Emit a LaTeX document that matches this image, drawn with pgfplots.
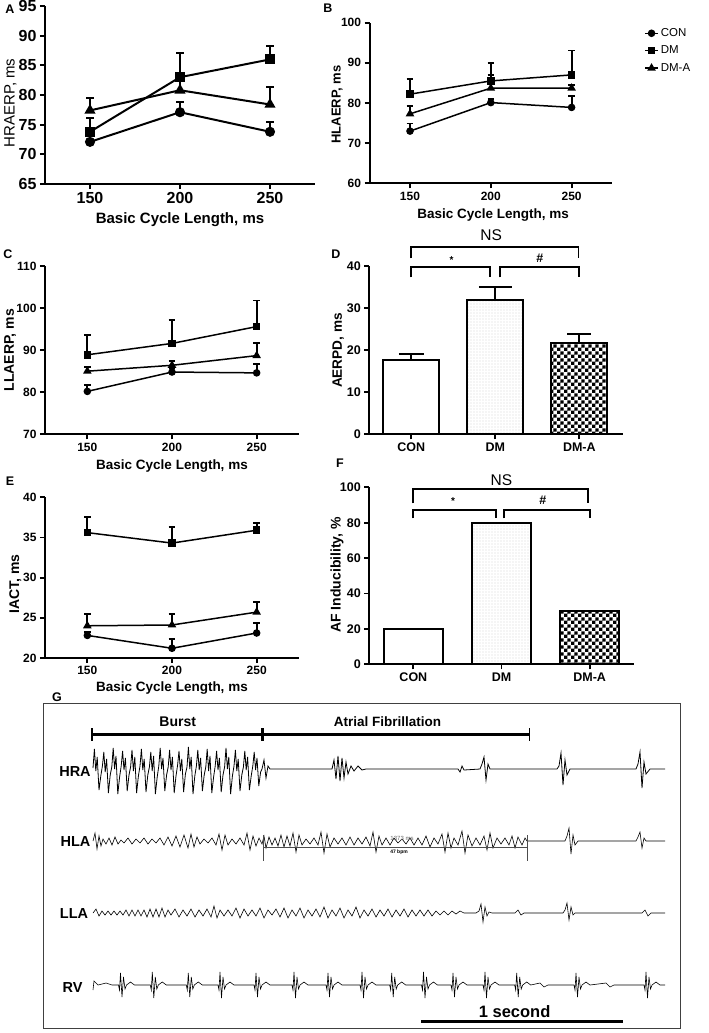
\documentclass[border=0pt]{standalone}
\usepackage{pgfplots}
\pgfplotsset{compat=1.18}
\usepackage{fontspec}
\setmainfont{Liberation Sans}
\usetikzlibrary{patterns}

\pgfdeclarepatternformonly{mychecker}{\pgfpointorigin}{\pgfqpoint{6.8pt}{6.8pt}}{\pgfqpoint{6.8pt}{6.8pt}}{%
  \pgfpathrectangle{\pgfpointorigin}{\pgfqpoint{3.4pt}{3.4pt}}%
  \pgfpathrectangle{\pgfqpoint{3.4pt}{3.4pt}}{\pgfqpoint{3.4pt}{3.4pt}}%
  \pgfusepath{fill}}
\pgfdeclarepatternformonly{mydots}{\pgfqpoint{-1pt}{-1pt}}{\pgfqpoint{1pt}{1pt}}{\pgfqpoint{3pt}{3pt}}{%
  \pgfpathcircle{\pgfpointorigin}{0.45pt}\pgfusepath{fill}}

\newcommand{\fs}[1]{\fontsize{#1}{#1}\selectfont}

\pgfplotsset{
  gp/.style={
    scale only axis, anchor=south west, clip=false,
    axis lines=left, axis line style={-, line width=1.8pt},
    every tick/.style={black, line width=1.8pt},
    tick align=outside, major tick length=5pt,
    /pgf/number format/assume math mode=true,
    tick label style={font=\bfseries\fs{12}},
    label style={font=\bfseries\fs{13.5}},
  },
  ln/.style={black, line width=#1, mark options={solid, fill=black}},
  eb/.style 2 args={error bars/y dir=plus, error bars/y explicit,
    error bars/error bar style={line width=#1, black},
    error bars/error mark options={rotate=90, line width=#1, mark size=#2, black}},
}

\begin{document}
\begin{tikzpicture}
\useasboundingbox (0,0) rectangle (709pt,-1033pt);

% ---------- A ----------
\begin{axis}[gp, at={(45pt,-184pt)}, width=270pt, height=178pt,
  xmin=125, xmax=275, xtick={150,200,250},
  ymin=65, ymax=95, ytick={65,70,...,95},
  tick label style={font=\bfseries\fs{16}},
  xlabel={Basic Cycle Length, ms}, ylabel={HRAERP, ms},
  xlabel style={at={(axis description cs:0.5,-0.2)}, anchor=center, font=\bfseries\fs{15}},
  ylabel style={at={(axis description cs:-0.128,0.455)}, anchor=center, font=\fs{15}}]
\addplot[ln=2pt, mark=*, mark size=4pt, eb={2pt}{4pt}] table[x=x,y=y,y error=e]{
x y e
150 72.1 0.4
200 77.1 1.8
250 73.8 1.6
};
\addplot[ln=2pt, mark=square*, mark size=4pt, eb={2pt}{4pt}] table[x=x,y=y,y error=e]{
x y e
150 73.8 2.3
200 83.0 4.0
250 86.0 2.3
};
\addplot[ln=2pt, mark=triangle*, mark size=4.5pt, eb={2pt}{4pt}] table[x=x,y=y,y error=e]{
x y e
150 77.4 2.1
200 80.8 1.5
250 78.4 3.0
};
\end{axis}
\node[font=\bfseries\fs{12.5}] at (10pt,-9pt) {A};

% ---------- B ----------
\begin{axis}[gp, at={(369.6pt,-183.3pt)}, width=242.4pt, height=160.6pt,
  xmin=125, xmax=275, xtick={150,200,250},
  ymin=60, ymax=100, ytick={60,70,...,100},
  xlabel={Basic Cycle Length, ms}, ylabel={HLAERP, ms},
  xlabel style={at={(axis description cs:0.51,-0.197)}, anchor=center},
  ylabel style={at={(axis description cs:-0.134,0.49)}, anchor=center, font=\bfseries\fs{13}},
  legend style={at={(1.12,0.99)}, anchor=north west, draw=none, fill=none,
    font=\fs{11.5}, row sep=4pt, cells={anchor=west},
    /tikz/every even column/.append style={column sep=2pt}},
  legend image code/.code={\draw[mark repeat=2,mark phase=2,#1] plot coordinates {(0pt,0pt) (6.5pt,0pt) (13pt,0pt)};}]
\addplot[ln=1.5pt, mark=*, mark size=3pt, eb={1.8pt}{3.3pt}] table[x=x,y=y,y error=e]{
x y e
150 73.0 1.9
200 80.1 0.8
250 78.9 2.8
};
\addlegendentry{CON}
\addplot[ln=1.5pt, mark=square*, mark size=3pt, eb={1.8pt}{3.3pt}] table[x=x,y=y,y error=e]{
x y e
150 82.2 3.8
200 85.5 4.5
250 87.0 6.1
};
\addlegendentry{DM}
\addplot[ln=1.5pt, mark=triangle*, mark size=3.5pt, eb={1.8pt}{3.3pt}] table[x=x,y=y,y error=e]{
x y e
150 77.3 2.0
200 83.7 3.2
250 83.7 0.8
};
\addlegendentry{DM-A}
\end{axis}
\node[font=\bfseries\fs{12.5}] at (328pt,-8pt) {B};

% ---------- C ----------
\begin{axis}[gp, at={(45pt,-434.3pt)}, width=254pt, height=168.3pt,
  xmin=125, xmax=275, xtick={150,200,250},
  ymin=70, ymax=110, ytick={70,80,...,110},
  xlabel={Basic Cycle Length, ms}, ylabel={LLAERP, ms},
  xlabel style={at={(axis description cs:0.5,-0.188)}, anchor=center},
  ylabel style={at={(axis description cs:-0.137,0.5)}, anchor=center, font=\bfseries\fs{14}}]
\addplot[ln=1.5pt, mark=*, mark size=3pt, eb={1.8pt}{3.3pt}] table[x=x,y=y,y error=e]{
x y e
150 80.2 1.5
200 84.8 1.0
250 84.6 2.2
};
\addplot[ln=1.5pt, mark=square*, mark size=3pt, eb={1.8pt}{3.3pt}] table[x=x,y=y,y error=e]{
x y e
150 88.9 4.7
200 91.6 5.5
250 95.6 6.2
};
\addplot[ln=1.5pt, mark=triangle*, mark size=3.5pt, eb={1.8pt}{3.3pt}] table[x=x,y=y,y error=e]{
x y e
150 85.0 1.0
200 86.4 1.0
250 88.7 3.0
};
\end{axis}
\node[font=\bfseries\fs{12.5}] at (8pt,-254pt) {C};

% ---------- D ----------
\begin{axis}[gp, at={(369.3pt,-434.3pt)}, width=253.7pt, height=168.3pt,
  xmin=-0.5, xmax=2.52, xtick={0,1,2}, xticklabels={CON,DM,DM-A},
  ymin=0, ymax=40, ytick={0,10,...,40},
  tick label style={font=\bfseries\fs{12.5}},
  ylabel={AERPD, ms},
  ylabel style={at={(axis description cs:-0.122,0.498)}, anchor=center, font=\bfseries\fs{13.6}},
  ybar, bar width=0.667, bar shift=0pt]
\addplot[draw=black, line width=2pt, fill=white, eb={2pt}{12.5pt}] table[x=x,y=y,y error=e]{
x y e
0 17.6 1.6
};
\addplot[draw=black, line width=2pt, pattern=mydots, pattern color=gray, eb={2pt}{16.5pt}] table[x=x,y=y,y error=e]{
x y e
1 31.9 3.2
};
\addplot[draw=black, line width=2pt, pattern=mychecker, pattern color=black, eb={2pt}{12pt}] table[x=x,y=y,y error=e]{
x y e
2 21.8 2.0
};
\draw[line width=1.8pt] (axis cs:0,37.3) -- (axis cs:0,39.8) -- (axis cs:0.94,39.8) -- (axis cs:0.94,37.3);
\draw[line width=1.8pt] (axis cs:1.06,37.3) -- (axis cs:1.06,39.8) -- (axis cs:1.995,39.8) -- (axis cs:1.995,37.3);
\draw[line width=1.8pt] (axis cs:0,41.8) -- (axis cs:0,44.6) -- (axis cs:1.99,44.6) -- (axis cs:1.99,41.8);
\node[font=\fs{15.5}] at (axis cs:0.95,47.3) {NS};
\node[font=\bfseries\fs{10}] at (axis cs:0.48,41.4) {*};
\node[font=\bfseries\fs{12.5}] at (axis cs:1.53,41.9) {\#};
\end{axis}
\node[font=\bfseries\fs{12.5}] at (336pt,-254pt) {D};

% ---------- E ----------
\begin{axis}[gp, at={(45pt,-657.9pt)}, width=254pt, height=160.6pt,
  xmin=125, xmax=275, xtick={150,200,250},
  ymin=20, ymax=40, ytick={20,25,...,40},
  xlabel={Basic Cycle Length, ms}, ylabel={IACT, ms},
  xlabel style={at={(axis description cs:0.5,-0.187)}, anchor=center},
  ylabel style={at={(axis description cs:-0.117,0.46)}, anchor=center, font=\bfseries\fs{14}}]
\addplot[ln=1.5pt, mark=*, mark size=3pt, eb={1.8pt}{3.3pt}] table[x=x,y=y,y error=e]{
x y e
150 22.8 0.4
200 21.2 1.2
250 23.1 1.2
};
\addplot[ln=1.5pt, mark=square*, mark size=3pt, eb={1.8pt}{3.3pt}] table[x=x,y=y,y error=e]{
x y e
150 35.6 1.9
200 34.3 2.0
250 35.9 0.9
};
\addplot[ln=1.5pt, mark=triangle*, mark size=3.5pt, eb={1.8pt}{3.3pt}] table[x=x,y=y,y error=e]{
x y e
150 24.0 1.5
200 24.1 1.4
250 25.7 1.25
};
\end{axis}
\node[font=\bfseries\fs{12.5}] at (10pt,-481pt) {E};

% ---------- F ----------
\begin{axis}[gp, at={(369.3pt,-664.3pt)}, width=264.4pt, height=177pt,
  xmin=-0.5, xmax=2.5, xtick={0,1,2}, xticklabels={CON,DM,DM-A},
  ymin=0, ymax=100, ytick={0,20,...,100},
  tick label style={font=\bfseries\fs{12.5}},
  ylabel={AF Inducibility, \%},
  ylabel style={at={(axis description cs:-0.122,0.505)}, anchor=center, font=\bfseries\fs{14}},
  ybar, bar width=0.67, bar shift=0pt]
\addplot[draw=black, line width=2pt, fill=white] coordinates {(0,20)};
\addplot[draw=black, line width=2pt, pattern=mydots, pattern color=gray] coordinates {(1,80)};
\addplot[draw=black, line width=2pt, pattern=mychecker, pattern color=black] coordinates {(2,30)};
\draw[line width=1.8pt] (axis cs:0,82.4) -- (axis cs:0,87.1) -- (axis cs:0.94,87.1) -- (axis cs:0.94,82.4);
\draw[line width=1.8pt] (axis cs:1.03,82.4) -- (axis cs:1.03,87.1) -- (axis cs:2,87.1) -- (axis cs:2,82.4);
\draw[line width=1.8pt] (axis cs:0,90.9) -- (axis cs:0,98.9) -- (axis cs:1.98,98.9) -- (axis cs:1.98,90.9);
\node[font=\fs{15.5}] at (axis cs:1,104.3) {NS};
\node[font=\bfseries\fs{10}] at (axis cs:0.45,92.2) {*};
\node[font=\bfseries\fs{12.5}] at (axis cs:1.47,92.8) {\#};
\end{axis}
\node[font=\bfseries\fs{12.5}] at (340pt,-463pt) {F};

% ---------- G ----------
\begin{axis}[at={(43pt,-1028pt)}, anchor=south west, scale only axis,
  width=637pt, height=325pt, xmin=43, xmax=680, ymin=703, ymax=1028, y dir=reverse,
  axis lines=box, ticks=none, axis line style={line width=0.9pt, black!75}, clip=false]
% HRA
\addplot[black, line width=0.8pt] coordinates {
(93,768)(94.4,749)(95.8,771)(97.2,757)(99,790)(100.8,776)
(102.4,766)(103.8,752)(105.2,772)(106.6,759)(108.4,793)(110.2,775)
(111.8,767)(113.2,748)(114.6,769)(116,756)(117.8,794)(119.6,777)
(121.2,766)(122.6,751)(124,770)(125.4,758)(127.2,791)(129,775)
(130.6,767)(132,750)(133.4,771)(134.8,757)(136.6,793)(138.4,776)
(140,766)(141.4,749)(142.8,770)(144.2,759)(146,792)(147.8,775)
(149.4,767)(150.8,752)(152.2,771)(153.6,756)(155.4,794)(157.2,777)
(158.8,766)(160.2,748)(161.6,769)(163,758)(164.8,791)(166.6,775)
(168.2,767)(169.6,750)(171,770)(172.4,757)(174.2,793)(176,776)
(177.6,765)(179,751)(180.4,771)(181.8,759)(183.6,792)(185.4,774)
(187,767)(188.4,747)(189.8,769)(191.2,757)(193,794)(194.8,776)
(196.4,766)(197.8,750)(199.2,770)(200.6,758)(202.4,791)(204.2,775)
(205.8,767)(207.2,749)(208.6,771)(210,756)(211.8,793)(213.6,777)
(215.2,766)(216.6,751)(218,770)(219.4,758)(221.2,792)(223,775)
(224.6,767)(226,748)(227.4,769)(228.8,757)(230.6,794)(232.4,776)
(234,766)(235.4,750)(236.8,771)(238.2,759)(240,791)(241.8,775)
(243.4,767)(244.8,751)(246.2,770)(247.6,757)(249.4,790)(251.2,776)
(252.8,766)(254.2,752)(255.6,770)(257,758)(258.8,786)(260.6,772)
(262,769)(264,760)(266,778)(268,766)(270,769)(332,769)
(334,760)(336,779)(338,756)(340,781)(342,758)(344,778)(346,762)(348,774)(351,766)(354,771)(358,766)(362,770)(366,769)
(458,769)(460,772)(462,766)(464,770)(480,769)(482,764)(484,757)(486,780)(488,764)(490,769)
(557,769)(559,766)(561,753)(563,785)(565,760)(567,775)(570,769)
(636,769)(638,764)(640,752)(642,788)(644,762)(646,774)(650,769)(665,769)
};
% HLA
\addplot[black, line width=0.6pt] coordinates {
(93,841)(95,833)(97,849)(99,836)(101,846)(103,839)(106,844)(109,838)(112,845)(115,837)(118,844)(121,840)(124,843)(128,838)(132,844)(136,839)(140,843)(144,838)(148,844)(152,839)(156,843)(160,838)(164,845)(168,837)(172,846)(176,836)(180,847)(184,835)(188,848)(191,834)(194,847)(197,837)(200,844)(204,839)(208,843)(212,838)(216,845)(219,834)(222,850)(225,835)(228,845)(232,839)(236,844)(240,838)(244,845)(247,833)(250,850)(253,836)(256,846)(259,838)(262,844)(264,836)(266,848)(269,837)(272,845)(275,838)(278,846)(281,835)(284,847)(287,836)(290,846)(293,833)(296,852)(299,835)(302,845)(306,839)(310,844)(314,838)(318,845)(321,832)(324,853)(327,834)(330,847)(334,838)(338,844)(342,838)(346,845)(350,837)(354,845)(358,838)(362,844)(366,837)(370,846)(373,832)(376,852)(379,836)(382,845)(386,838)(390,845)(394,838)(398,843)(402,839)(406,844)(410,838)(414,845)(418,838)(422,845)(426,836)(430,847)(434,838)(438,844)(442,834)(445,852)(448,833)(451,848)(454,838)(458,845)(462,831)(465,853)(468,835)(472,846)(476,838)(480,845)(484,836)(487,850)(490,833)(493,848)(497,838)(501,844)(505,838)(509,845)(512,836)(515,848)(518,837)(522,845)(525,838)(527,841)
(565,841)(567,836)(569,828)(571,854)(573,835)(575,845)(578,841)(636,841)(638,837)(640,832)(642,848)(644,838)(646,841)(665,841)
};
\addplot[black!70, line width=0.6pt] coordinates {(263.7,835)(263.7,861)};
\addplot[black!70, line width=0.6pt] coordinates {(527.3,835)(527.3,861)};
\addplot[black!70, line width=0.6pt] coordinates {(263.7,847)(527.3,847)};
% LLA
\addplot[black, line width=0.6pt] coordinates {
(93,913)(96,909)(99,916)(102,911)(105,915)(108,911)(111,915)(114,911)(117,915)(120,911)(123,915)(126,910)(129,916)(132,910)(135,916)(138,910)(141,916)(144,910)(147,917)(150,909)(153,917)(156,909)(159,917)(162,908)(165,917)(168,910)(171,915)(175,909)(179,917)(183,910)(187,916)(191,909)(195,917)(199,910)(203,916)(207,909)(211,917)(214,906)(217,918)(220,910)(224,916)(228,910)(232,916)(236,908)(240,918)(244,909)(248,916)(252,910)(256,916)(260,908)(264,918)(268,910)(272,915)(276,909)(280,917)(284,908)(288,918)(292,910)(296,916)(300,908)(304,918)(308,910)(312,916)(316,909)(320,917)(324,907)(328,918)(332,910)(336,916)(340,908)(344,918)(348,910)(352,916)(356,907)(360,918)(364,910)(368,916)(372,909)(376,917)(380,910)(384,916)(388,909)(392,917)(396,910)(400,916)(404,909)(408,917)(412,910)(416,916)(420,910)(424,916)(428,910)(432,916)(436,911)(440,915)(444,911)(448,915)(452,911)(456,914)(460,911)(464,913)(476,913)(479,911)(481,904)(483,922)(485,907)(487,916)(489,912)(492,913)(515,913)(518,910)(521,915)(524,913)(563,913)(565,910)(567,903)(569,920)(571,907)(573,915)(575,913)(642,913)(645,910)(648,916)(651,913)(665,913)
};
% RV
\addplot[black, line width=0.6pt] coordinates {
(93,990)(94,981)(98,985)(106,983)(112,985)
(118.5,985)(119.5,990)(120.5,973)(122,997)(123.5,977)(125,989)(126.5,985)(130.5,982)(134.5,985)
(150.3,985)(151.3,990)(152.3,972)(153.8,998)(155.3,977)(156.8,989)(158.3,985)(162.3,982)(166.3,985)
(186.3,985)(187.3,990)(188.3,973)(189.8,997)(191.3,977)(192.8,989)(194.3,985)(198.3,982)(202.3,985)
(218,985)(219,990)(220,972)(221.5,998)(223,977)(224.5,989)(226,985)(230,982)(234,985)
(254,985)(255,990)(256,973)(257.5,997)(259,977)(260.5,989)(262,985)(266,982)(270,985)
(292,985)(293,990)(294,972)(295.5,998)(297,977)(298.5,989)(300,985)(304,982)(308,985)
(326,985)(327,990)(328,973)(329.5,997)(331,977)(332.5,989)(334,985)(338,982)(342,985)
(360,985)(361,990)(362,972)(363.5,998)(365,977)(366.5,989)(368,985)(372,982)(376,985)
(389.7,985)(390.7,990)(391.7,973)(393.2,997)(394.7,977)(396.2,989)(397.7,985)(401.7,982)(405.7,985)
(421.5,985)(422.5,990)(423.5,972)(425,998)(426.5,977)(428,989)(429.5,985)(433.5,982)(437.5,985)
(451,985)(452,990)(453,973)(454.5,997)(456,977)(457.5,989)(459,985)(463,982)(467,985)
(483,985)(484,990)(485,972)(486.5,998)(488,977)(489.5,989)(491,985)(495,982)(499,985)
(514.7,985)(515.7,990)(516.7,973)(518.2,997)(519.7,977)(521.2,989)(522.7,985)(526.7,982)(530.7,985)
(540,983)(544,987)(548,985)
(574,985)(575,990)(576,973)(577.5,997)(579,977)(580.5,989)(582,985)(586,982)(590,985)
(606,983)(610,987)(614,985)
(644,985)(645,990)(646,972)(647.5,998)(649,977)(650.5,989)(652,985)(656,982)(660,985)(665,985)
};
% annotations
\draw[line width=2.6pt] (axis cs:91.7,734.3) -- (axis cs:529.4,734.3);
\draw[line width=1.8pt] (axis cs:91.7,728) -- (axis cs:91.7,741);
\draw[line width=3.2pt] (axis cs:262.5,728) -- (axis cs:262.5,741);
\draw[line width=1.8pt] (axis cs:529.4,728) -- (axis cs:529.4,741);
\node[font=\bfseries\fs{14}] at (axis cs:177.7,722) {Burst};
\node[font=\bfseries\fs{13.5}] at (axis cs:387.5,721.5) {Atrial Fibrillation};
\node[font=\bfseries\fs{14.5}] at (axis cs:75,771.5) {HRA};
\node[font=\bfseries\fs{14.5}] at (axis cs:75.5,841) {HLA};
\node[font=\bfseries\fs{14.5}] at (axis cs:74,913) {LLA};
\node[font=\bfseries\fs{14.5}] at (axis cs:72.5,987) {RV};
\node[font=\fs{6}, text=black!60] at (axis cs:402,838) {1373 ms};
\node[font=\bfseries\fs{5}] at (axis cs:399,852) {47 bpm};
\draw[line width=2.7pt] (axis cs:421.4,1021.7) -- (axis cs:622.6,1021.7);
\node[font=\bfseries\fs{16.5}] at (axis cs:514.6,1012) {1 second};
\end{axis}
\node[font=\bfseries\fs{12.5}] at (57pt,-697pt) {G};
\end{tikzpicture}
\end{document}
